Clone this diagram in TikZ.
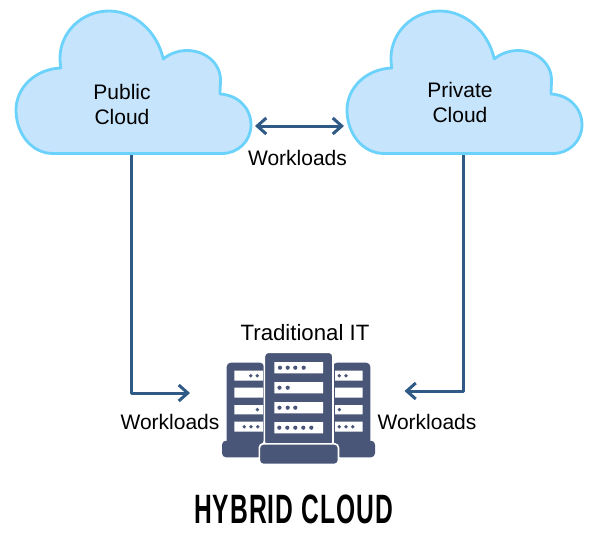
\documentclass[tikz,border=0pt]{standalone}
\usepackage{fontspec}
\setmainfont{Liberation Sans}
\newfontfamily\hybridTitleFont[FakeStretch=0.6,LetterSpace=2.5]{Liberation Sans Bold}
\usetikzlibrary{arrows.meta}
\definecolor{hybridSky}{HTML}{C6E4FC}
\definecolor{hybridEdge}{HTML}{6BD2FB}
\definecolor{hybridFlow}{HTML}{2F5A85}
\definecolor{hybridSlate}{HTML}{4A5678}
\begin{document}
\begin{tikzpicture}[x=1pt,y=-1pt,line cap=butt,line join=round]
\useasboundingbox[fill=white] (0,0) rectangle (598,547);
\tikzset{flow/.style={draw=hybridFlow,line width=3pt,arrows={-Straight Barb[length=9pt,width=16pt,line width=3pt]}},twoway/.style={flow,arrows={Straight Barb[length=9pt,width=16pt,line width=3pt]-Straight Barb[length=9pt,width=16pt,line width=3pt]}},label/.style={font=\fontsize{21}{25}\selectfont,text=black,align=center,inner sep=0pt},rack/.style={fill=hybridSlate,rounded corners=4pt},rackfront/.style={rack,draw=white,line width=1.6pt},slot/.style={fill=white},led/.style={fill=hybridSlate},cloudshape/.pic={\path[fill=hybridSky,draw=hybridEdge,line width=2.8pt] (53,153.5) -- (222,153.5) .. controls (238,153.5) and (251,141) .. (251,125) .. controls (251,108) and (238,95) .. (220,94) .. controls (220,91) and (220.5,84) .. (220.5,80) .. controls (220.5,63) and (205,50.5) .. (187,50.5) .. controls (178,50.5) and (169,54) .. (163.3,59) .. controls (157,31) and (134,11) .. (109,11) .. controls (81,11) and (60,33) .. (60,58) .. controls (60,61) and (60.3,65) .. (60.7,68) .. controls (35,69) and (16,88) .. (16,110) .. controls (16,134) and (32,153.5) .. (53,153.5) -- cycle;}}
\pic at (0,0) {cloudshape};
\pic at (331,0) {cloudshape};
\node[label] (publicLabel) at (122,104) {Public\\Cloud};
\node[label] (privateLabel) at (460,102) {Private\\Cloud};
% side racks
\path[rack] (226.7,362.7) rectangle (264,444); \path[rack] (222,440.7) rectangle (262,457.3);
\path[rack] (333,362.7) rectangle (370.3,444); \path[rack] (336,440.7) rectangle (375,457.3);
\path[slot] (234.3,370.7) rectangle (263,380.7) (234.3,387.7) rectangle (263,397.7) (234.3,405) rectangle (263,414.3) (234.3,421.7) rectangle (263,431.7);
\path[slot] (335,370.7) rectangle (362.7,380.7) (335,387.7) rectangle (362.7,397.7) (335,405) rectangle (362.7,414.3) (335,421.7) rectangle (362.7,431.7);
\path[led] (250.7,375.7) circle (1.9) (257.3,375.7) circle (1.9) (257.3,409.6) circle (1.9) (244.3,426.7) circle (1.9) (251,426.7) circle (1.9) (257.7,426.7) circle (1.9);
\path[led] (339.3,375.7) circle (1.9) (346,375.7) circle (1.9) (339.3,409.6) circle (1.9) (339.3,426.7) circle (1.9) (346,426.7) circle (1.9) (352.7,426.7) circle (1.9);
% middle rack
\path[rackfront] (264.4,352.2) rectangle (333,446);
\path[rackfront] (259.3,443.8) rectangle (338.5,464.5);
\path[slot] (274.3,362) rectangle (323,373.3) (274.3,382) rectangle (323,393.3) (274.3,402) rectangle (323,413.3) (274.3,422) rectangle (323,433.3);
\path[led] (280,367.7) circle (2.1) (287.7,367.7) circle (2.1) (295.3,367.7) circle (2.1) (303.7,367.7) circle (2.1) (279.5,387.7) circle (2.1) (287.7,387.7) circle (2.1) (279.5,407.7) circle (2.1) (287.7,407.7) circle (2.1) (295.3,407.7) circle (2.1) (279.3,427.7) circle (2.1) (287.3,427.7) circle (2.1) (295.3,427.7) circle (2.1) (303.3,427.7) circle (2.1) (311.3,427.7) circle (2.1);
\coordinate (publicEast) at (255,126); \coordinate (privateWest) at (344,126);
\coordinate (publicSouth) at (131,155); \coordinate (privateSouth) at (463,155);
\coordinate (rackWest) at (190,393); \coordinate (rackEast) at (404.5,391);
\draw[twoway] (publicEast) -- (privateWest);
\draw[flow] (publicSouth) |- (rackWest);
\draw[flow] (privateSouth) |- (rackEast);
\node[label] (topWorkloads) at (297.5,157.5) {Workloads};
\node[label] (leftWorkloads) at (170,421.5) {Workloads};
\node[label] (rightWorkloads) at (427,421.5) {Workloads};
\node[label,font=\fontsize{22.2}{25}\selectfont] (itLabel) at (305,333) {Traditional IT};
\node[inner sep=0pt,text=black,font={\hybridTitleFont\fontsize{41}{41}\selectfont}] (hybridTitle) at (293.5,509) {HYBRID CLOUD};
\end{tikzpicture}
\end{document}
